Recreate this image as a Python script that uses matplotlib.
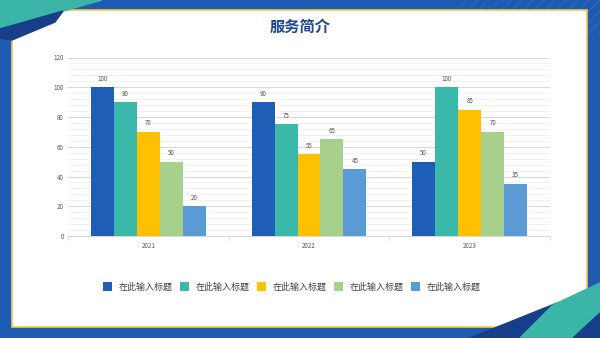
import numpy as np
import matplotlib.pyplot as plt
from matplotlib.patches import Polygon, Rectangle
from matplotlib.ticker import MultipleLocator

plt.rcParams['font.family'] = ['Noto Sans CJK SC', 'DejaVu Sans']
plt.rcParams['hatch.linewidth'] = 0.6

years = ['2021', '2022', '2023']
series_names = ['在此输入标题'] * 5
s1 = [100, 90, 50]
s2 = [90, 75, 100]
s3 = [70, 55, 85]
s4 = [50, 65, 70]
s5 = [20, 45, 35]
colors = ['#1F5EB6', '#3AB8A9', '#FFC000', '#A8D08D', '#5B9BD5']

W, H = 600, 338
fig = plt.figure(figsize=(6, 3.38), dpi=100)

# slide background drawn in pixel space
bg = fig.add_axes([0, 0, 1, 1], zorder=0)
bg.set_xlim(0, W)
bg.set_ylim(H, 0)
bg.axis('off')
bg.add_patch(Rectangle((0, 0), W, H, color='#1E5BB3'))
# faint hatched strip top right
bg.add_patch(Rectangle((460, 0), 140, 10, facecolor='none', edgecolor='#3769BA',
                       hatch='///', linewidth=0))
bg.add_patch(Rectangle((587, 0), 13, 35, facecolor='none', edgecolor='#3769BA',
                       hatch='///', linewidth=0))
# white panel with yellow rim
bg.add_patch(Rectangle((12, 10), 575, 317, facecolor='white', edgecolor='#F2C94C',
                       linewidth=1.2))
# corner shapes
bg.add_patch(Polygon([(0, 0), (102, 0), (0, 29)], color='#3AB5A7'))
bg.add_patch(Polygon([(0, 29), (63, 11), (55, 22), (12, 40), (0, 38)], color='#173E88'))
bg.add_patch(Polygon([(470, 338), (557, 303), (520, 338)], color='#173E88'))
bg.add_patch(Polygon([(600, 283), (553, 305), (520, 338), (573, 338), (600, 313)],
                     color='#3AB5A7'))
bg.add_patch(Polygon([(573, 338), (600, 313), (600, 338)], color='#173E88'))

fig.text(0.5, 1 - 27 / H, '服务简介', ha='center', va='center', fontsize=11,
         fontweight='bold', color='#1F4690')

ax = fig.add_axes([68 / W, 1 - 236 / H, (550 - 68) / W, (236 - 57.5) / H], zorder=1)
ax.patch.set_alpha(0)

x = np.arange(len(years))
bw = 0.143
data = [s1, s2, s3, s4, s5]
handles = []
for i, vals in enumerate(data):
    pos = x + (i - 2) * bw
    b = ax.bar(pos, vals, bw, color=colors[i], label=series_names[i], zorder=3)
    handles.append(b)
    for p, v in zip(pos, vals):
        ax.text(p, v + 3, str(v), ha='center', va='bottom', fontsize=4.5, color='#595959')

ax.set_xlim(-0.5, 2.5)
ax.set_ylim(0, 120)
ax.yaxis.set_major_locator(MultipleLocator(20))
ax.yaxis.set_minor_locator(MultipleLocator(4))
ax.grid(axis='y', which='major', color='#D9D9D9', linewidth=0.8, zorder=0)
ax.grid(axis='y', which='minor', color='#F0F0F0', linewidth=0.6, zorder=0)
ax.set_xticks(x)
ax.set_xticklabels(years)
ax.set_xticks([-0.5, 0.5, 1.5, 2.5], minor=True)
ax.tick_params(axis='x', which='major', length=0, labelsize=4.5, labelcolor='#595959', pad=4)
ax.tick_params(axis='x', which='minor', length=3, color='#D9D9D9', width=0.6)
ax.tick_params(axis='y', which='both', length=0, labelsize=4.5, labelcolor='#595959', pad=3)
for s in ['top', 'right', 'left']:
    ax.spines[s].set_visible(False)
ax.spines['bottom'].set_color('#D9D9D9')
ax.spines['bottom'].set_linewidth(0.8)

fig.legend(handles=handles, labels=series_names, loc='center', ncol=5,
           bbox_to_anchor=(292 / W, 1 - 287 / H), frameon=False, fontsize=6.5,
           labelcolor='#404040', handlelength=1.0, handleheight=1.0,
           handletextpad=0.75, columnspacing=0.8)

fig.savefig('out.png', dpi=100)
